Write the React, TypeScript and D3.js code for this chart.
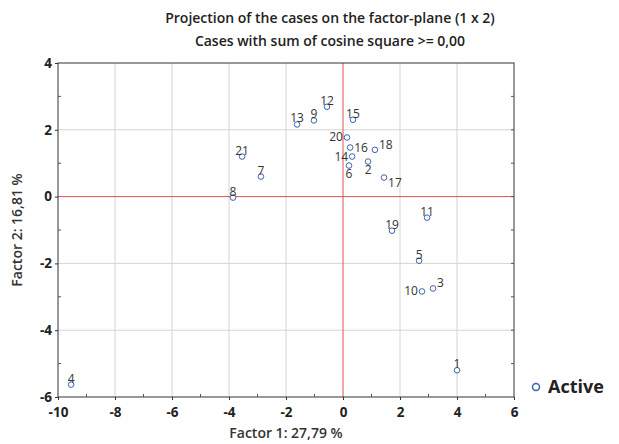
import React, { useEffect, useRef } from 'react';
import * as d3 from 'd3';

const caseIds = ['1','2','3','4','5','6','7','8','9','10','11','12','13','14','15','16','17','18','19','20','21'];
const factor1 = [4.0, 0.88, 3.16, -9.54, 2.67, 0.21, -2.88, -3.86, -1.02, 2.77, 2.95, -0.56, -1.61, 0.32, 0.35, 0.25, 1.44, 1.12, 1.72, 0.14, -3.54];
const factor2 = [-5.2, 1.05, -2.75, -5.63, -1.92, 0.93, 0.6, -0.03, 2.28, -2.84, -0.63, 2.69, 2.16, 1.2, 2.3, 1.47, 0.57, 1.4, -1.02, 1.77, 1.2];
// label placement: a = above, b = below, l = left, r = right, ru = right/up, rd = right/down
const labelPos = ['a','b','ru','a','a','b','a','a','a','l','a','a','a','l','a','r','rd','ru','a','l','a'];
const xTicks = [-10, -8, -6, -4, -2, 0, 2, 4, 6];
const yTicks = [-6, -4, -2, 0, 2, 4];

const W = 619, H = 444;
const m = { left: 58, right: 105, top: 63, bottom: 47 };

export default function App() {
  const ref = useRef<SVGSVGElement | null>(null);

  useEffect(() => {
    if (!ref.current) return;
    const svg = d3.select(ref.current);
    svg.selectAll('*').remove();
    const font = '"Open Sans", sans-serif';

    const x = d3.scaleLinear().domain([-10, 6]).range([m.left, W - m.right]);
    const y = d3.scaleLinear().domain([-6, 4]).range([H - m.bottom, m.top]);

    // grid
    svg.append('g').selectAll('line').data(xTicks.filter(t => t > -10 && t < 6 && t !== 0)).join('line')
      .attr('x1', d => x(d)).attr('x2', d => x(d)).attr('y1', y(4)).attr('y2', y(-6))
      .attr('stroke', '#d4d4d4').attr('stroke-width', 1);
    svg.append('g').selectAll('line').data(yTicks.filter(t => t > -6 && t < 4 && t !== 0)).join('line')
      .attr('y1', d => y(d)).attr('y2', d => y(d)).attr('x1', x(-10)).attr('x2', x(6))
      .attr('stroke', '#d4d4d4').attr('stroke-width', 1);
    // zero lines
    svg.append('line').attr('x1', x(0)).attr('x2', x(0)).attr('y1', y(4)).attr('y2', y(-6))
      .attr('stroke', '#d9534f').attr('stroke-width', 1);
    svg.append('line').attr('y1', y(0)).attr('y2', y(0)).attr('x1', x(-10)).attr('x2', x(6))
      .attr('stroke', '#d9534f').attr('stroke-width', 1);

    // frame
    svg.append('rect').attr('x', x(-10)).attr('y', y(4)).attr('width', x(6) - x(-10)).attr('height', y(-6) - y(4))
      .attr('fill', 'none').attr('stroke', '#333').attr('stroke-width', 1);

    // axes
    const xa = svg.append('g').attr('transform', `translate(0,${y(-6)})`)
      .call(d3.axisBottom(x).tickValues(xTicks).tickSize(3).tickFormat(d => String(d)));
    xa.select('.domain').remove();
    xa.selectAll('text').attr('font-family', font).attr('font-size', 13.5).attr('font-weight', 700).attr('fill', '#222').attr('dy', '1.05em');
    xa.selectAll('line').attr('stroke', '#333');
    const ya = svg.append('g').attr('transform', `translate(${x(-10)},0)`)
      .call(d3.axisLeft(y).tickValues(yTicks).tickSize(3).tickFormat(d => String(d)));
    ya.select('.domain').remove();
    ya.selectAll('text').attr('font-family', font).attr('font-size', 13.5).attr('font-weight', 700).attr('fill', '#222');
    ya.selectAll('line').attr('stroke', '#333');
    // minor ticks inside
    svg.append('g').selectAll('line').data(d3.range(-9, 6, 2)).join('line')
      .attr('x1', d => x(d)).attr('x2', d => x(d)).attr('y1', y(-6)).attr('y2', y(-6) - 3).attr('stroke', '#555');
    svg.append('g').selectAll('line').data(d3.range(-5, 4, 2)).join('line')
      .attr('y1', d => y(d)).attr('y2', d => y(d)).attr('x1', x(-10)).attr('x2', x(-10) + 3).attr('stroke', '#555');
    svg.append('g').selectAll('line').data(d3.range(-5, 4, 1)).join('line')
      .attr('y1', d => y(d)).attr('y2', d => y(d)).attr('x1', x(6)).attr('x2', x(6) - 3).attr('stroke', '#555');

    // points
    const pts = caseIds.map((id, i) => ({ id, fx: factor1[i], fy: factor2[i], pos: labelPos[i] }));
    svg.append('g').selectAll('circle').data(pts).join('circle')
      .attr('cx', d => x(d.fx)).attr('cy', d => y(d.fy)).attr('r', 2.8)
      .attr('fill', 'white').attr('stroke', '#3b62ad').attr('stroke-width', 1);
    const off: Record<string, [number, number, string]> = {
      a: [0, -2, 'middle'], b: [0, 12, 'middle'], l: [-4, 4, 'end'], r: [4, 4, 'start'],
      ru: [4, -1, 'start'], rd: [4, 9, 'start'],
    };
    svg.append('g').selectAll('text').data(pts).join('text')
      .attr('x', d => x(d.fx) + off[d.pos][0]).attr('y', d => y(d.fy) + off[d.pos][1])
      .attr('text-anchor', d => off[d.pos][2])
      .attr('font-family', font).attr('font-size', 12).attr('fill', '#333')
      .text(d => d.id);

    // titles
    svg.append('text').attr('x', 330).attr('y', 23).attr('text-anchor', 'middle')
      .attr('font-family', font).attr('font-size', 14).attr('font-weight', 600).attr('fill', '#222')
      .text('Projection of the cases on the factor-plane (1 x 2)');
    svg.append('text').attr('x', 330).attr('y', 46).attr('text-anchor', 'middle')
      .attr('font-family', font).attr('font-size', 14).attr('font-weight', 600).attr('fill', '#222')
      .text('Cases with sum of cosine square >= 0,00');
    svg.append('text').attr('x', (x(-10) + x(6)) / 2).attr('y', 438).attr('text-anchor', 'middle')
      .attr('font-family', font).attr('font-size', 14).attr('font-weight', 600).attr('fill', '#333')
      .text('Factor 1: 27,79 %');
    svg.append('text').attr('transform', `translate(22,${(y(4) + y(-6)) / 2}) rotate(-90)`).attr('text-anchor', 'middle')
      .attr('font-family', font).attr('font-size', 14).attr('font-weight', 600).attr('fill', '#333')
      .text('Factor 2: 16,81 %');

    // legend
    svg.append('circle').attr('cx', 536).attr('cy', 387).attr('r', 3.5)
      .attr('fill', 'white').attr('stroke', '#3b62ad').attr('stroke-width', 1.5);
    svg.append('text').attr('x', 548).attr('y', 393)
      .attr('font-family', font).attr('font-size', 18).attr('font-weight', 700).attr('fill', '#222')
      .text('Active');
  }, []);

  return <svg ref={ref} width={W} height={H} style={{ position: 'absolute', left: 0, top: 0, background: 'white' }} />;
}
